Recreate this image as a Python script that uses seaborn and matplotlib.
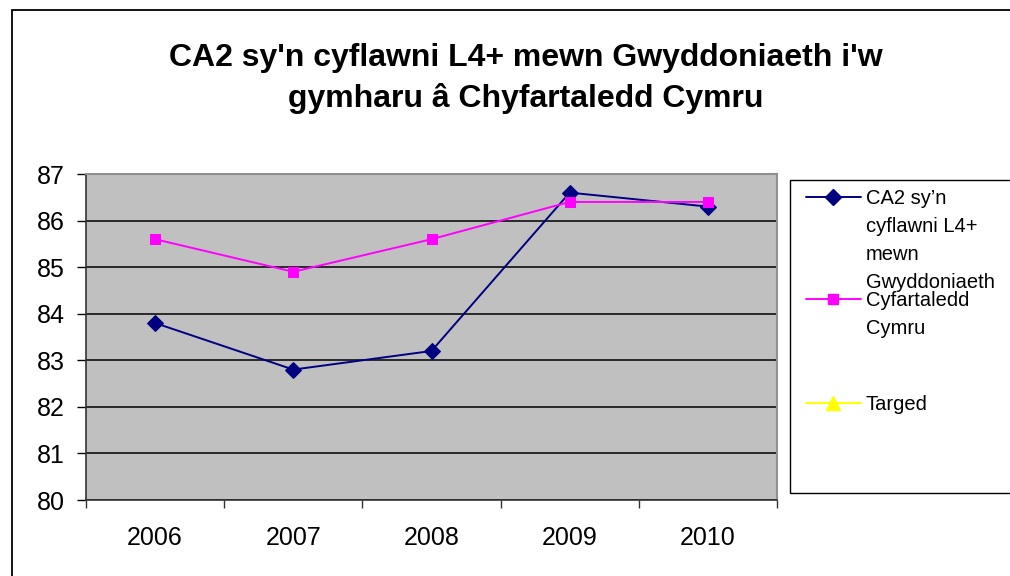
import numpy as np
import pandas as pd
import seaborn as sns
import matplotlib.pyplot as plt
from matplotlib.lines import Line2D
from matplotlib.patches import Rectangle

years = ['2006', '2007', '2008', '2009', '2010']
ca2 = [83.8, 82.8, 83.2, 86.6, 86.3]
cymru = [85.6, 84.9, 85.6, 86.4, 86.4]
targed = [np.nan, np.nan, np.nan, np.nan, np.nan]  # no target values shown
y_ticks = [80, 81, 82, 83, 84, 85, 86, 87]

title_lines = ["CA2 sy'n cyflawni L4+ mewn Gwyddoniaeth i'w",
               "gymharu â Chyfartaledd Cymru"]
legend_labels = ["CA2 sy’n\ncyflawni L4+\nmewn\nGwyddoniaeth",
                 "Cyfartaledd\nCymru",
                 "Targed"]

sns.set_style('white')
plt.rcParams['font.family'] = ['Liberation Sans', 'DejaVu Sans']
plt.rcParams['text.color'] = 'black'
plt.rcParams['xtick.color'] = 'black'
plt.rcParams['ytick.color'] = 'black'

df = pd.DataFrame({'year': years, 'ca2': ca2, 'cymru': cymru, 'targed': targed})

W, H = 1010, 576
fig = plt.figure(figsize=(W / 100, H / 100), dpi=100)
ax = fig.add_axes([86 / W, 1 - 500 / H, (777 - 86) / W, (500 - 174) / H])
ax.set_facecolor('#C0C0C0')

styles = [('ca2', '#000080', 'D', 8), ('cymru', '#FF00FF', 's', 7.5), ('targed', '#FFFF00', '^', 10)]
for col, c, m, ms in styles[:2]:
    sns.lineplot(data=df, x='year', y=col, color=c, marker=m, markersize=ms,
                 markeredgecolor=c, linewidth=1.4, ax=ax)
ax.plot(df['year'], df['targed'], color='#FFFF00', marker='^')

ax.set_xlim(-0.5, 4.5)
ax.set_ylim(80, 87)
ax.set_yticks(y_ticks)
ax.set_xticks(range(len(years)))
ax.set_xticks(np.arange(-0.5, 5, 1), minor=True)
ax.set_xticklabels(years)
ax.set_xlabel('')
ax.set_ylabel('')
ax.yaxis.grid(True, color='black', lw=1.1)
ax.set_axisbelow(True)
for s in ['top', 'right']:
    ax.spines[s].set_color('#909090')
    ax.spines[s].set_linewidth(1.5)
for s in ['left', 'bottom']:
    ax.spines[s].set_color('#333333')
    ax.spines[s].set_linewidth(1.2)
ax.tick_params(axis='y', direction='out', length=6.5, width=1, color='black',
               labelsize=18, pad=9, left=True)
ax.tick_params(axis='x', which='major', length=0, labelsize=18, pad=19)
ax.tick_params(axis='x', which='minor', direction='out', length=6, width=1,
               color='#333333', bottom=True)

fig.text(526 / W, 1 - 58 / H, title_lines[0], ha='center', va='center',
         fontsize=23, weight='bold')
fig.text(526 / W, 1 - 98 / H, title_lines[1], ha='center', va='center',
         fontsize=23, weight='bold')

# outer chart border
fig.add_artist(Rectangle((12 / W, -0.1), 1.2, 1 - 10 / H + 0.1, transform=fig.transFigure,
                         fill=False, ec='black', lw=1.3))
# legend box
fig.add_artist(Rectangle((790 / W, 1 - 493 / H), 0.3, (493 - 180) / H,
                         transform=fig.transFigure, fill=False, ec='black', lw=1))

entry_y = [197, 299, 403]
for (col, c, m, ms), lab, yy in zip(styles, legend_labels, entry_y):
    yf = 1 - yy / H
    fig.add_artist(Line2D([806 / W, 861 / W], [yf, yf], transform=fig.transFigure,
                          color=c, lw=1.4))
    fig.add_artist(Line2D([833 / W], [yf], transform=fig.transFigure, color=c,
                          marker=m, markersize=ms, markeredgecolor=c))
    fig.text(866 / W, 1 - (yy - 8) / H, lab, ha='left', va='top', fontsize=14.5,
             linespacing=1.6)

fig.savefig('out.png', dpi=100)
